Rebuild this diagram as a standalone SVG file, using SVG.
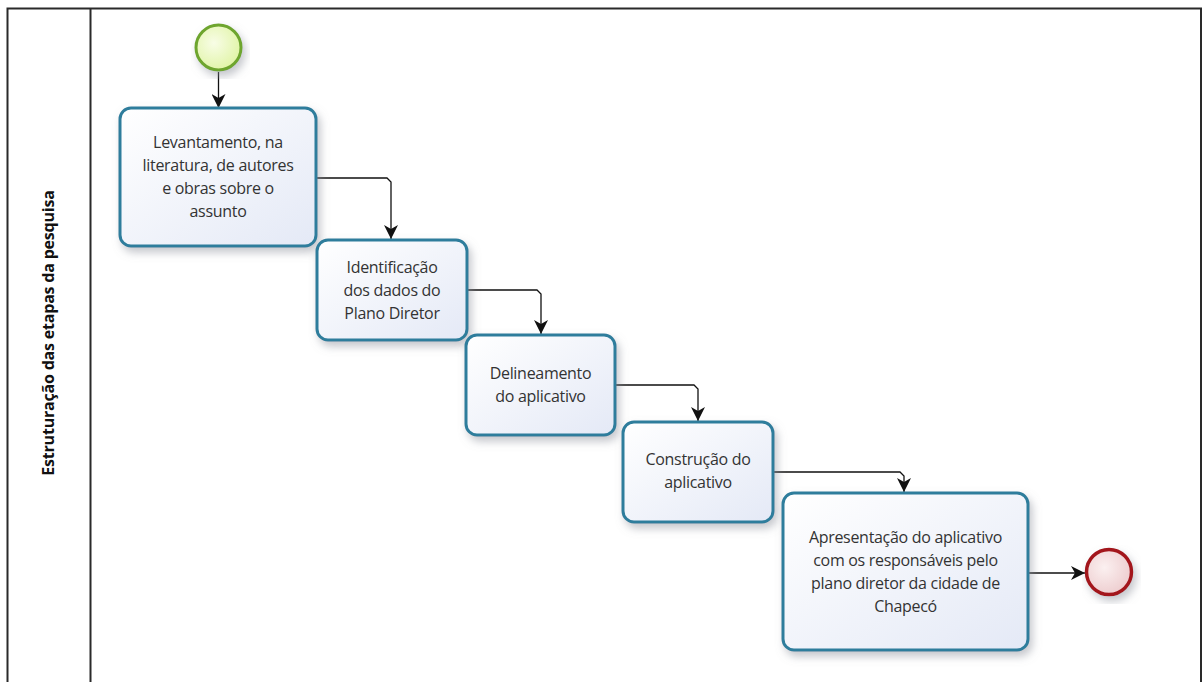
<svg xmlns="http://www.w3.org/2000/svg" width="1203" height="682" viewBox="0 0 1203 682">
  <style>
    .frame { fill: none; stroke: #2a2a2a; stroke-width: 2; }
    .task rect { fill: url(#taskFill); stroke: #2f7d9c; stroke-width: 3; filter: url(#shadow); }
    .task text, .lane text { font-family: "Open Sans", "Noto Sans", sans-serif; fill: #333333; text-anchor: middle; }
    .task text { font-size: 16px; letter-spacing: -0.3px; }
    .lane text { font-size: 16px; font-weight: bold; fill: #111111; letter-spacing: -0.2px; }
    .flow { fill: none; stroke: #111111; stroke-width: 1.3; marker-end: url(#arrow); }
  </style>
  <defs>
    <linearGradient id="taskFill" x1="0" y1="0" x2="1" y2="1">
      <stop offset="0" stop-color="#ffffff"/>
      <stop offset="1" stop-color="#e4e9f6"/>
    </linearGradient>
    <radialGradient id="startFill" cx="0.4" cy="0.4" r="0.7">
      <stop offset="0" stop-color="#f8fde6"/>
      <stop offset="1" stop-color="#def3a0"/>
    </radialGradient>
    <radialGradient id="endFill" cx="0.4" cy="0.4" r="0.7">
      <stop offset="0" stop-color="#fbf0f0"/>
      <stop offset="1" stop-color="#ecc9cb"/>
    </radialGradient>
    <filter id="shadow" x="-10%" y="-10%" width="130%" height="130%">
      <feDropShadow dx="3" dy="5" stdDeviation="4" flood-color="#8a8f9a" flood-opacity="0.5"/>
    </filter>
    <marker id="arrow" viewBox="0 0 14 14" refX="14" refY="7" markerWidth="14" markerHeight="14" markerUnits="userSpaceOnUse" orient="auto">
      <path d="M0,0 L14,7 L0,14 L4,7 z" fill="#111111"/>
    </marker>
  </defs>

  <!-- pool frame and lane header -->
  <g id="pool">
    <rect class="frame" x="7.5" y="8.5" width="1193.5" height="690"/>
    <line class="frame" x1="90.5" y1="8.5" x2="90.5" y2="690"/>
  </g>
  <g id="lane" class="lane">
    <text transform="translate(54,333) rotate(-90)">Estruturação das etapas da pesquisa</text>
  </g>

  <!-- sequence flows -->
  <g id="connectors">
    <path class="flow" d="M218.5,72 L218.5,108"/>
    <path class="flow" d="M316,178 L387,178 L391,182 L391,239"/>
    <path class="flow" d="M467,290 L537,290 L541,294 L541,334"/>
    <path class="flow" d="M615,385 L694,385 L698,389 L698,421"/>
    <path class="flow" d="M773,472 L900,472 L904,476 L904,492"/>
    <path class="flow" d="M1028,573 L1085,573"/>
  </g>

  <g id="start">
    <circle cx="218.5" cy="47.5" r="22.5" fill="url(#startFill)" stroke="#6ea52e" stroke-width="3" filter="url(#shadow)"/>
  </g>

  <g id="task1" class="task">
    <rect x="120" y="108" width="196" height="138" rx="11"/>
    <text x="218" y="148">Levantamento, na</text>
    <text x="218" y="171">literatura, de autores</text>
    <text x="218" y="194">e obras sobre o</text>
    <text x="218" y="217">assunto</text>
  </g>

  <g id="task2" class="task">
    <rect x="317" y="240" width="150" height="100" rx="11"/>
    <text x="392" y="272.5">Identificação</text>
    <text x="392" y="295.5">dos dados do</text>
    <text x="392" y="318.5">Plano Diretor</text>
  </g>

  <g id="task3" class="task">
    <rect x="466" y="335" width="149" height="100" rx="11"/>
    <text x="540.5" y="378.5">Delineamento</text>
    <text x="540.5" y="401.5">do aplicativo</text>
  </g>

  <g id="task4" class="task">
    <rect x="623" y="422" width="150" height="100" rx="11"/>
    <text x="698" y="464.5">Construção do</text>
    <text x="698" y="487.5">aplicativo</text>
  </g>

  <g id="task5" class="task">
    <rect x="783" y="493" width="245" height="157" rx="11"/>
    <text x="905.5" y="542.5">Apresentação do aplicativo</text>
    <text x="905.5" y="565.5">com os responsáveis pelo</text>
    <text x="905.5" y="588.5">plano diretor da cidade de</text>
    <text x="905.5" y="611.5">Chapecó</text>
  </g>

  <g id="end">
    <circle cx="1109" cy="572" r="22.5" fill="url(#endFill)" stroke="#a3171c" stroke-width="3.5" filter="url(#shadow)"/>
  </g>
</svg>
